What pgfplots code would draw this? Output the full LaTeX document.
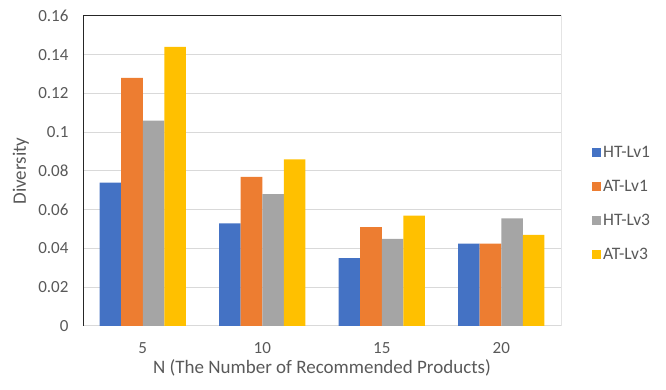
\documentclass[border=0pt]{standalone}
\usepackage{fontspec}
\setmainfont{Carlito}
\usepackage{pgfplots}
\pgfplotsset{compat=1.18}
\definecolor{cBlue}{HTML}{4472C4}
\definecolor{cOrange}{HTML}{ED7D31}
\definecolor{cGray}{HTML}{A5A5A5}
\definecolor{cYellow}{HTML}{FFC000}
\definecolor{txt}{HTML}{595959}
\definecolor{grd}{HTML}{D9D9D9}
\begin{document}
\begin{tikzpicture}
\path[use as bounding box] (0pt,0pt) rectangle (666pt,390pt);
\begin{axis}[
  at={(83pt,64pt)}, anchor=south west,
  scale only axis, width=478pt, height=310pt,
  xmin=2.5, xmax=22.5, ymin=0, ymax=0.16,
  xtick={5,10,15,20},
  ytick={0,0.02,0.04,0.06,0.08,0.1,0.12,0.14,0.16},
  scaled y ticks=false,
  /pgf/number format/assume math mode=true,
  yticklabel style={/pgf/number format/fixed, /pgf/number format/precision=2, xshift=-11pt},
  xticklabel style={yshift=-13pt},
  tick label style={font=\fontsize{17}{19}\selectfont, text=txt},
  major tick length=0pt,
  axis line style={draw=none},
  ymajorgrids, grid style={color=grd, line width=1pt},
  ybar=0pt, bar width=0.9,
  ylabel={Diversity},
  ylabel style={at={(axis description cs:-0.13,0.5)}, anchor=center, rotate=0, font=\fontsize{19}{21}\selectfont, text=txt},
  xlabel={N (The Number of Recommended Products)},
  xlabel style={at={(axis description cs:0.5,-0.135)}, anchor=center, font=\fontsize{19}{21}\selectfont, text=txt},
  legend image code/.code={\fill[#1,draw=none] (0pt,-4.5pt) rectangle (9pt,4.5pt);},
  legend style={draw=none, at={(1,0.395)}, anchor=west, xshift=28pt,
    font=\fontsize{17.5}{19}\selectfont, text=txt, row sep=17pt},
  legend cell align=left,
]
\addplot[fill=cBlue, draw=none] coordinates {(5,0.074) (10,0.053) (15,0.035) (20,0.0425)};
\addplot[fill=cOrange, draw=none] coordinates {(5,0.128) (10,0.077) (15,0.051) (20,0.0425)};
\addplot[fill=cGray, draw=none] coordinates {(5,0.106) (10,0.068) (15,0.045) (20,0.0555)};
\addplot[fill=cYellow, draw=none] coordinates {(5,0.144) (10,0.086) (15,0.057) (20,0.047)};
\legend{HT-Lv1, AT-Lv1, HT-Lv3, AT-Lv3}
\draw[black!85, line width=1pt] (rel axis cs:0,0) -- (rel axis cs:0,1) -- (rel axis cs:1,1) -- (rel axis cs:1,0);
\end{axis}
\end{tikzpicture}
\end{document}
